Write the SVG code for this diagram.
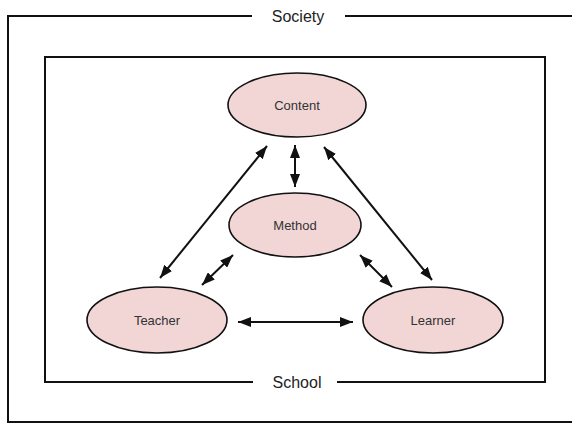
<svg xmlns="http://www.w3.org/2000/svg" width="572" height="424" viewBox="0 0 572 424">
  <style>
    .frame { fill: none; stroke: #111; stroke-width: 2; }
    .node ellipse { fill: #f2d6d6; stroke: #111; stroke-width: 1.6; }
    .node text { font-family: "Liberation Sans", Arial, sans-serif; font-size: 13px; fill: #333; text-anchor: middle; }
    .label { font-family: "Liberation Sans", Arial, sans-serif; font-size: 16px; fill: #222; text-anchor: middle; }
    .conn line { stroke: #111; stroke-width: 2; marker-start: url(#ah); marker-end: url(#ah); }
  </style>
  <defs>
    <marker id="ah" markerUnits="userSpaceOnUse" markerWidth="13" markerHeight="10" refX="13" refY="5" orient="auto-start-reverse">
      <path d="M0,0 L13,5 L0,10 z" fill="#111"/>
    </marker>
  </defs>
  <rect width="572" height="424" fill="#fff"/>
  <g id="society">
    <path class="frame" d="M252,16 H8 V422 H580 M345,16 H580"/>
    <text class="label" x="298" y="22">Society</text>
  </g>
  <g id="school">
    <path class="frame" d="M253,382 H45 V57 H545 V382 H337"/>
    <text class="label" x="297" y="388">School</text>
  </g>
  <g id="content" class="node">
    <ellipse cx="297" cy="105" rx="69" ry="32"/>
    <text x="297" y="110">Content</text>
  </g>
  <g id="method" class="node">
    <ellipse cx="295" cy="225" rx="66" ry="32"/>
    <text x="295" y="230">Method</text>
  </g>
  <g id="teacher" class="node">
    <ellipse cx="157" cy="320" rx="70" ry="33"/>
    <text x="157" y="325">Teacher</text>
  </g>
  <g id="learner" class="node">
    <ellipse cx="433" cy="320" rx="70" ry="33"/>
    <text x="433" y="325">Learner</text>
  </g>
  <g id="connectors" class="conn">
    <line x1="295" y1="145" x2="295" y2="187"/>
    <line x1="267" y1="146" x2="160" y2="278"/>
    <line x1="324" y1="147" x2="432" y2="280"/>
    <line x1="233" y1="255" x2="202" y2="285"/>
    <line x1="360" y1="255" x2="392" y2="287"/>
    <line x1="238" y1="322" x2="353" y2="322"/>
  </g>
</svg>
